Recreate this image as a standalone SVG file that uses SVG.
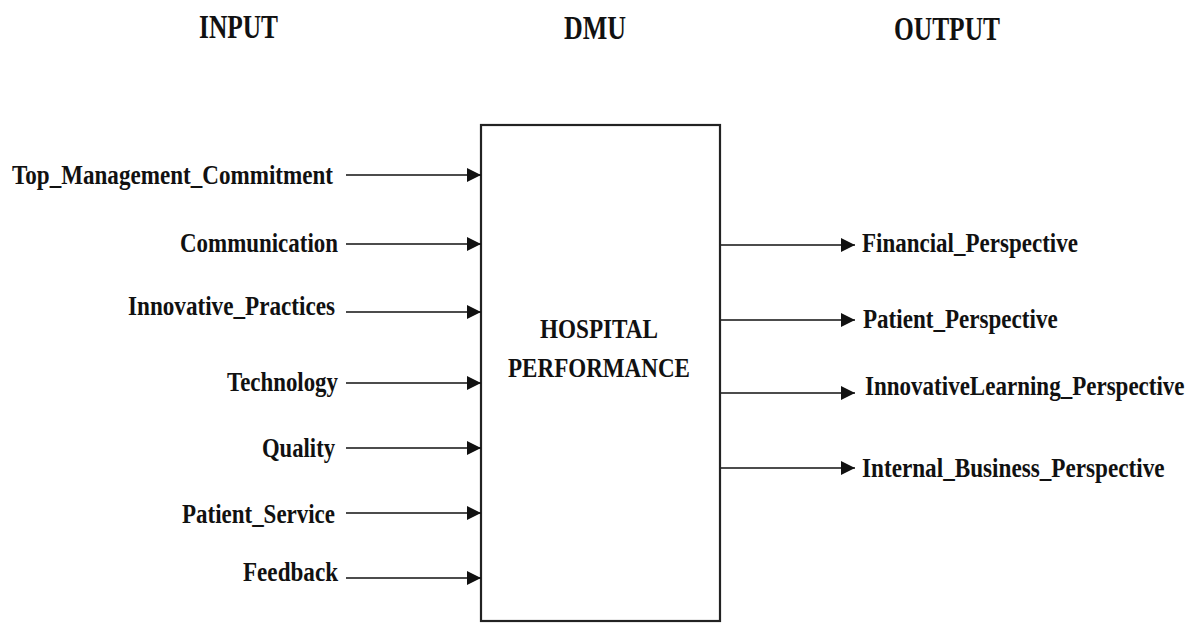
<svg xmlns="http://www.w3.org/2000/svg" width="1189" height="624" viewBox="0 0 1189 624">
  <style>
    text { font-family: "Liberation Serif", "Times New Roman", serif; font-weight: bold; fill: #111; }
    .title { font-size: 33px; }
    .lbl { font-size: 27px; }
    .conn { stroke: #111; stroke-width: 1.6; fill: none; marker-end: url(#arr); }
    .box { fill: #fff; stroke: #222; stroke-width: 2.2; }
  </style>
  <defs>
    <marker id="arr" markerUnits="userSpaceOnUse" markerWidth="14" markerHeight="14" refX="14" refY="7" orient="auto">
      <path d="M0,0 L14,7 L0,14 Z" fill="#111"/>
    </marker>
  </defs>
  <rect width="1189" height="624" fill="#fff"/>

  <g id="titles">
    <text class="title" x="199" y="38" textLength="79" lengthAdjust="spacingAndGlyphs">INPUT</text>
    <text class="title" x="564" y="39" textLength="62" lengthAdjust="spacingAndGlyphs">DMU</text>
    <text class="title" x="894" y="40" textLength="106" lengthAdjust="spacingAndGlyphs">OUTPUT</text>
  </g>

  <g id="dmu">
    <rect class="box" x="481" y="125" width="239" height="496"/>
    <text class="lbl" x="540" y="338" textLength="118" lengthAdjust="spacingAndGlyphs">HOSPITAL</text>
    <text class="lbl" x="508" y="377" textLength="182" lengthAdjust="spacingAndGlyphs">PERFORMANCE</text>
  </g>

  <g id="inputs">
    <text class="lbl" x="12" y="184" textLength="321" lengthAdjust="spacingAndGlyphs">Top_Management_Commitment</text>
    <text class="lbl" x="180" y="252" textLength="158" lengthAdjust="spacingAndGlyphs">Communication</text>
    <text class="lbl" x="128" y="315" textLength="207" lengthAdjust="spacingAndGlyphs">Innovative_Practices</text>
    <text class="lbl" x="227" y="391" textLength="111" lengthAdjust="spacingAndGlyphs">Technology</text>
    <text class="lbl" x="262" y="457" textLength="73" lengthAdjust="spacingAndGlyphs">Quality</text>
    <text class="lbl" x="182" y="523" textLength="153" lengthAdjust="spacingAndGlyphs">Patient_Service</text>
    <text class="lbl" x="243" y="581" textLength="95" lengthAdjust="spacingAndGlyphs">Feedback</text>
  </g>

  <g id="outputs">
    <text class="lbl" transform="translate(862,252) scale(0.85,1)" x="0" y="0" textLength="254" lengthAdjust="spacingAndGlyphs">Financial_Perspective</text>
    <text class="lbl" transform="translate(863,328) scale(0.85,1)" x="0" y="0" textLength="229" lengthAdjust="spacingAndGlyphs">Patient_Perspective</text>
    <text class="lbl" transform="translate(865,395) scale(0.85,1)" x="0" y="0" textLength="376" lengthAdjust="spacingAndGlyphs">InnovativeLearning_Perspective</text>
    <text class="lbl" transform="translate(862,477) scale(0.85,1)" x="0" y="0" textLength="356" lengthAdjust="spacingAndGlyphs">Internal_Business_Perspective</text>
  </g>

  <g id="connectors">
    <line class="conn" x1="346" y1="175" x2="481" y2="175"/>
    <line class="conn" x1="346" y1="244" x2="481" y2="244"/>
    <line class="conn" x1="346" y1="312" x2="481" y2="312"/>
    <line class="conn" x1="346" y1="383" x2="481" y2="383"/>
    <line class="conn" x1="346" y1="448" x2="481" y2="448"/>
    <line class="conn" x1="346" y1="513" x2="481" y2="513"/>
    <line class="conn" x1="346" y1="578" x2="481" y2="578"/>
    <line class="conn" x1="721" y1="245" x2="855" y2="245"/>
    <line class="conn" x1="721" y1="320" x2="855" y2="320"/>
    <line class="conn" x1="721" y1="393" x2="855" y2="393"/>
    <line class="conn" x1="721" y1="468" x2="855" y2="468"/>
  </g>
</svg>
